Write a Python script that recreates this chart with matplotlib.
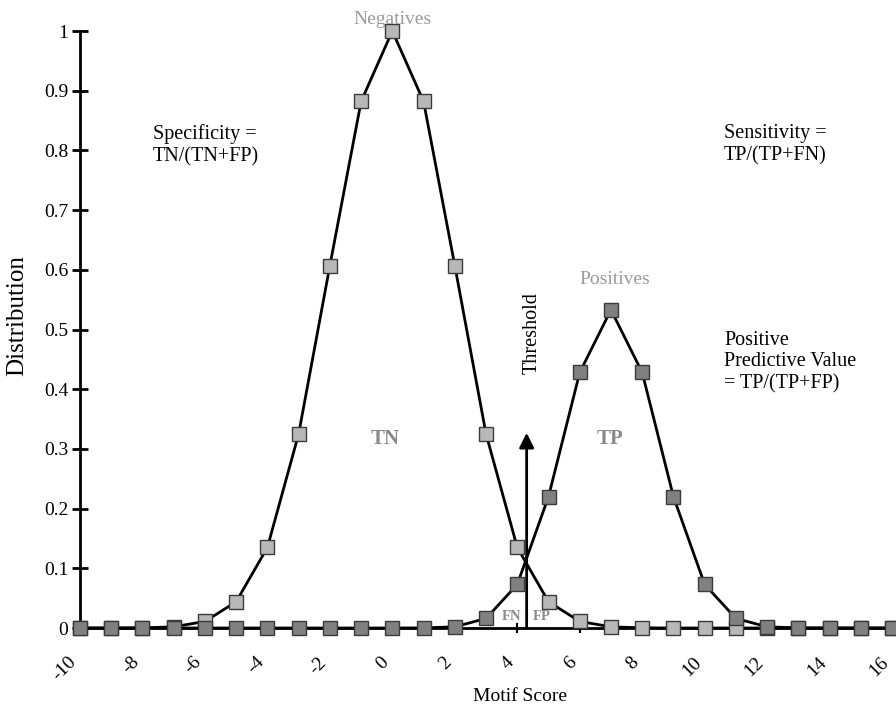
import matplotlib
matplotlib.use("Agg")
import matplotlib.pyplot as plt

plt.rcParams['font.family'] = ['Liberation Serif', 'DejaVu Serif']

# Motif score grid and the two score distributions
scores = [-10, -9, -8, -7, -6, -5, -4, -3, -2, -1, 0, 1, 2, 3, 4, 5,
          6, 7, 8, 9, 10, 11, 12, 13, 14, 15, 16]
negatives = [0.0, 0.0, 0.0003, 0.002, 0.011, 0.044, 0.135, 0.325, 0.607,
             0.882, 1.0, 0.882, 0.607, 0.325, 0.135, 0.044, 0.011, 0.002,
             0.0003, 0.0, 0.0, 0.0, 0.0, 0.0, 0.0, 0.0, 0.0]
positives = [0.0, 0.0, 0.0, 0.0, 0.0, 0.0, 0.0, 0.0, 0.0, 0.0, 0.0, 0.0002,
             0.002, 0.016, 0.073, 0.22, 0.428, 0.533, 0.428, 0.22, 0.073,
             0.016, 0.002, 0.0002, 0.0, 0.0, 0.0]

x_ticks = list(range(-10, 17, 2))
y_ticks = [0, 0.1, 0.2, 0.3, 0.4, 0.5, 0.6, 0.7, 0.8, 0.9, 1]
y_tick_labels = ['0', '0.1', '0.2', '0.3', '0.4', '0.5', '0.6', '0.7', '0.8', '0.9', '1']
threshold = 4.3
threshold_top = 0.327

fig = plt.figure(figsize=(8.96, 7.13), dpi=100)
ax = fig.add_axes([0.0893, 0.1192, 0.9063, 0.8373])

ax.plot(scores, negatives, color='black', lw=2, marker='s', markersize=9.5,
        markerfacecolor='#b8b8b8', markeredgecolor='#3a3a3a', markeredgewidth=1,
        clip_on=False, zorder=3)
ax.plot(scores, positives, color='black', lw=2, marker='s', markersize=9.5,
        markerfacecolor='#808080', markeredgecolor='#3a3a3a', markeredgewidth=1,
        clip_on=False, zorder=4)

# threshold arrow
ax.annotate('', xy=(threshold, threshold_top), xytext=(threshold, 0),
            arrowprops=dict(arrowstyle='-|>', color='black', lw=2,
                            mutation_scale=22, shrinkA=0, shrinkB=0),
            zorder=5)

ax.set_xlim(-10, 16)
ax.set_ylim(0, 1)

for side in ('top', 'right'):
    ax.spines[side].set_visible(False)
for side in ('left', 'bottom'):
    ax.spines[side].set_linewidth(2)
    ax.spines[side].set_zorder(2)

ax.set_xticks(x_ticks)
ax.set_xticklabels([str(v) for v in x_ticks], rotation=45, ha='right', va='top')
ax.set_yticks(y_ticks)
ax.set_yticklabels(y_tick_labels)
ax.tick_params(axis='y', direction='inout', length=11, width=2, labelsize=14, pad=3)
ax.tick_params(axis='x', direction='inout', length=7, width=1.5, labelsize=14, pad=15)

ax.set_ylabel('Distribution', fontsize=18)
ax.yaxis.set_label_coords(-0.064, 0.524)
ax.set_xlabel('Motif Score', fontsize=14)
ax.xaxis.set_label_coords(0.542, -0.1)

gray = '#9a9a9a'
ax.text(0, 1.02, 'Negatives', color=gray, fontsize=14, ha='center', va='center')
ax.text(7.13, 0.583, 'Positives', color=gray, fontsize=14, ha='center', va='center')
ax.text(-7.66, 0.809, 'Specificity =\nTN/(TN+FP)', fontsize=14.5, ha='left',
        va='center', linespacing=1.2)
ax.text(10.62, 0.809, 'Sensitivity =\nTP/(TP+FN)', fontsize=14.5, ha='left',
        va='center', linespacing=1.2)
ax.text(10.62, 0.4456, 'Positive\nPredictive Value\n= TP/(TP+FP)', fontsize=14.5,
        ha='left', va='center', linespacing=1.2)
ax.text(4.47, 0.494, 'Threshold', fontsize=14.5, rotation=90, ha='center', va='center')
ax.text(-0.23, 0.317, 'TN', color='#8a8a8a', fontsize=15, fontweight='bold',
        ha='center', va='center')
ax.text(6.97, 0.317, 'TP', color='#8a8a8a', fontsize=15, fontweight='bold',
        ha='center', va='center')
ax.text(3.83, 0.019, 'FN', color='#8a8a8a', fontsize=10.5, fontweight='bold',
        ha='center', va='center')
ax.text(4.79, 0.019, 'FP', color='#8a8a8a', fontsize=10.5, fontweight='bold',
        ha='center', va='center')

fig.savefig('out.png', dpi=100)
